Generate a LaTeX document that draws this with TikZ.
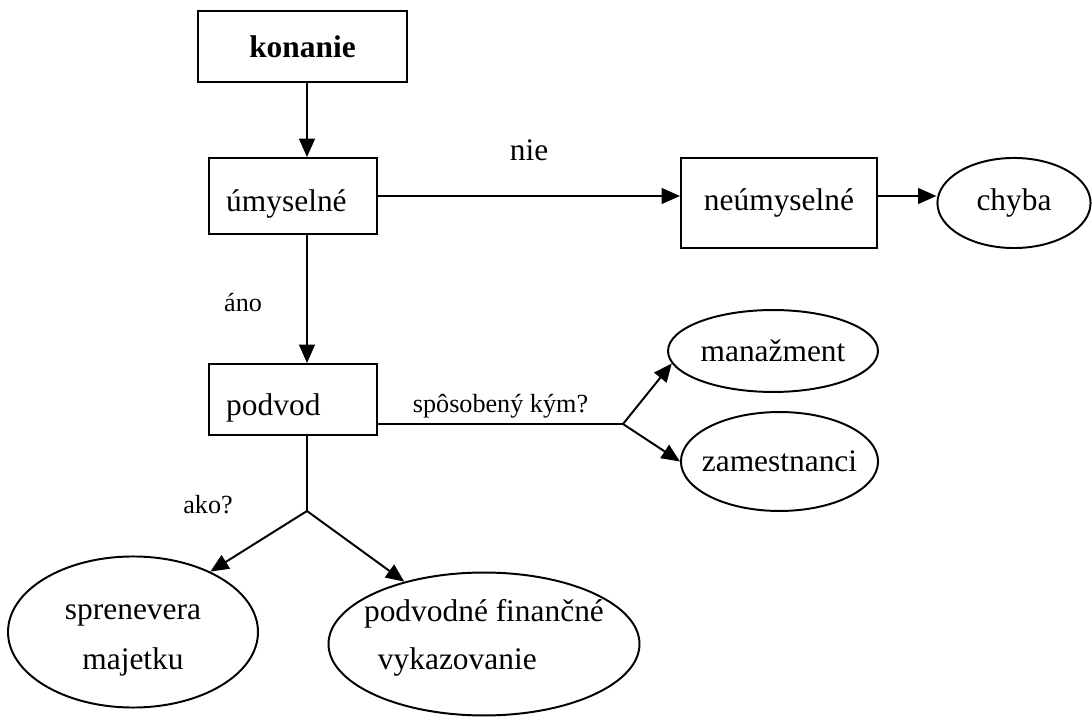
\documentclass[tikz,border=0pt]{standalone}
\usepackage{fontspec}
\setmainfont{Liberation Serif}
\usetikzlibrary{shapes,arrows.meta,positioning}

% text that takes no width, so the oval keeps its own size
\newcommand{\zerowd}[1]{\makebox[0pt]{#1}}
% same, with no height either, raised by #1
\newcommand{\zerobox}[2]{\raisebox{#1}[0pt][0pt]{\makebox[0pt]{#2}}}

\begin{document}
\begin{tikzpicture}[
		x=0.382pt, y=-0.382pt,
		line width=0.75pt,
		>={Triangle[length=7pt,width=6pt]},
		every node/.style={font=\fontsize{12}{14.4}\selectfont},
		box/.style={draw, rectangle, inner sep=0pt},
		leftbox/.style={box, minimum width=64.2pt, text width=51pt, inner xsep=6.6pt, align=left, text height=12pt, text depth=0pt},
		oval/.style={draw, ellipse, inner sep=0pt},
		lbl/.style={inner sep=1pt},
		small/.style={lbl, font=\fontsize{10}{12}\selectfont}
		]
		
		\useasboundingbox (0,0) rectangle (1092,717);
		
		% Top
		\node[
		box,
		minimum width=79.8pt,
		minimum height=27.1pt,
		font=\bfseries\fontsize{12}{14.4}\selectfont
		] (konanie) at (302.5,46.5) {konanie};
		
		% Left column
		\node[leftbox, minimum height=29pt] (umyselne) at (293,196) {úmyselné};
		\node[leftbox, minimum height=27.1pt] (podvod) at (293,399.5) {podvod};
		
		% Right of umyselne
		\node[
		box,
		minimum width=74.9pt,
		minimum height=34.4pt
		] (neumyselne) at (779,203) {neúmyselné};
		\node[oval, minimum width=58.5pt, minimum height=34.4pt] (chyba) at (1014,203) {chyba};
		
		% Who
		\node[oval, minimum width=80.2pt, minimum height=31.3pt] (manazment) at (773,351) {\zerowd{manažment}};
		\node[oval, minimum width=75.3pt, minimum height=37.8pt] (zamestnanci) at (779.5,461.5) {\zerowd{zamestnanci}};
		
		% How
		\node[
		oval,
		minimum width=95.5pt,
		minimum height=57.7pt
		] (sprenevera) at (133,632) {\zerobox{-4.9pt}{\begin{tabular}{@{}c@{}}sprenevera\\[4.6pt]majetku\end{tabular}}};
		\node[
		oval,
		minimum width=118.8pt,
		minimum height=54.6pt
		] (podvodne) at (484,644) {\zerobox{-0.7pt}{\begin{tabular}{@{}l@{}}podvodné finančné\\[4.2pt]\hspace*{5.3pt}vykazovanie\end{tabular}}};
		
		% Branch points
		\coordinate (jB) at (623,424);
		\coordinate (jA) at (307,511);
		
		% Arrows
		\draw[->] (konanie.south -| jA) -- (umyselne.north -| jA);
		
		\draw[->] (umyselne.east) -- (umyselne.east -| neumyselne.west)
		node[midway, above=12pt, lbl] (nie) {nie};
		
		\draw[->] (neumyselne.east |- umyselne.east) -- (chyba.west |- umyselne.east);
		
		\draw[->] (umyselne.south -| jA) -- (podvod.north -| jA)
		node[pos=0.53, left=15.8pt, small] (ano) {áno};
		
		\draw (podvod.east |- jB) -- (jB)
		node[midway, above=1pt, small] (kym) {spôsobený kým?};
		\draw[->] (jB) -- (manazment.187);
		\draw[->] (jB) -- (zamestnanci.west);
		
		\draw (podvod.south -| jA) -- (jA)
		node[pos=0.92, left=27pt, small] (ako) {ako?};
		\draw[->] (jA) -- (sprenevera.38);
		\draw[->] (jA) -- (podvodne.142);
		
	\end{tikzpicture}
\end{document}
